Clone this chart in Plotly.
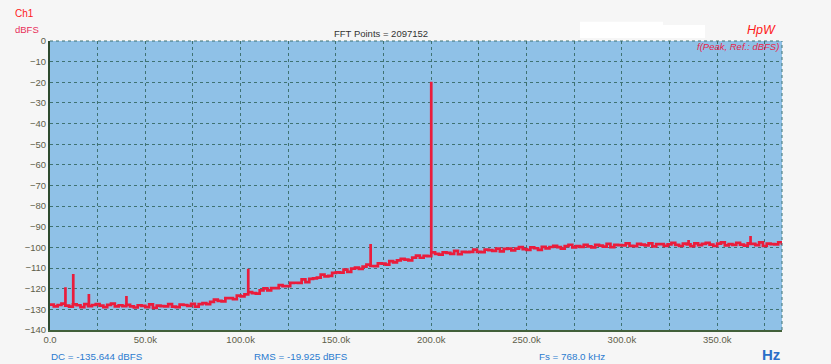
import plotly.graph_objects as go

# ---------------- data ----------------
freq_step_khz = 2.0
noise_db = [
    -127.7, -128.6, -127.9, -127.2, -128.2, -128.7, -127.6, -128.0, -128.9, -127.5,
    -128.5, -127.9, -127.4, -128.2, -128.9, -127.8, -127.2, -128.6, -128.0, -128.4,
    -127.8, -128.6, -129.1, -128.0, -128.3, -128.9, -127.6, -129.3, -128.2, -128.4,
    -128.6, -127.5, -128.7, -128.9, -127.7, -127.9, -128.3, -127.3, -128.7, -127.5,
    -127.0, -127.5, -126.4, -125.3, -125.9, -126.1, -124.6, -124.6, -125.1, -123.3,
    -123.7, -122.7, -121.7, -122.1, -122.4, -120.8, -119.8, -120.8, -119.7, -119.7,
    -118.3, -118.7, -118.7, -117.2, -117.1, -117.2, -115.5, -116.8, -115.2, -115.0,
    -114.6, -113.2, -114.0, -113.8, -112.3, -112.1, -112.2, -110.8, -111.8, -110.3,
    -109.8, -110.4, -109.3, -108.3, -109.0, -109.1, -107.7, -107.8, -108.3, -106.6,
    -107.2, -106.3, -105.5, -105.9, -106.3, -104.9, -104.0, -105.0, -104.1, -104.2,
    -102.4, -103.1, -103.5, -102.4, -102.6, -103.1, -101.7, -103.3, -102.2, -102.3,
    -102.2, -101.1, -102.2, -102.3, -101.1, -101.3, -101.7, -100.6, -101.9, -100.7,
    -100.6, -101.4, -100.6, -99.9, -100.8, -101.2, -100.0, -100.4, -101.2, -99.7,
    -100.5, -99.8, -99.2, -99.9, -100.6, -99.4, -98.7, -100.0, -99.4, -99.7,
    -98.8, -99.5, -100.0, -98.8, -99.1, -99.6, -98.3, -99.9, -98.8, -98.9,
    -99.0, -98.0, -99.2, -99.4, -98.3, -98.6, -99.0, -98.0, -99.5, -98.4,
    -98.4, -99.2, -98.5, -97.8, -98.8, -99.3, -98.2, -98.5, -99.4, -98.0,
    -98.9, -98.3, -97.8, -98.6, -99.3, -98.2, -97.6, -99.0, -98.4, -98.8,
    -97.8, -98.6, -99.1, -98.0, -98.3, -98.9, -97.6, -99.3, -98.2, -98.4,
    -98.5, -97.5, -98.8,
]
spike_freqs_khz = [8.1, 12.2, 20.4, 40.1, 104.0, 168.2, 200.0, 335.0, 367.5]
spike_levels_db = [-119.3, -112.9, -122.6, -123.5, -110.3, -98.3, -19.8, -96.4, -94.5]

x_tick_vals_khz = [0, 50, 100, 150, 200, 250, 300, 350]
x_tick_labels = ["0.0", "50.0k", "100.0k", "150.0k", "200.0k", "250.0k", "300.0k", "350.0k"]
y_tick_vals = [0, -10, -20, -30, -40, -50, -60, -70, -80, -90, -100, -110, -120, -130, -140]

fft_points = 2097152
dc_dbfs = -135.644
rms_dbfs = -19.925
fs_khz = 768.0

# ---------------- build trace ----------------
noise_freqs = [i * freq_step_khz for i in range(len(noise_db))]
pts = list(zip(noise_freqs, noise_db))
for f, lvl in zip(spike_freqs_khz, spike_levels_db):
    idx = min(range(len(noise_freqs)), key=lambda i: abs(noise_freqs[i] - f))
    base = noise_db[idx]
    pts += [(f, base), (f, lvl), (f, base)]
pts.sort(key=lambda p: p[0])
xs = [p[0] * 1000 for p in pts]
ys = [p[1] for p in pts]

# ---------------- figure ----------------
W, H = 831, 364
L, R, T, B = 50, 782, 41, 330
FONT = "Liberation Sans, Arial, sans-serif"
GRID = "#3f7272"

def px(xp):
    return (xp - L) / (R - L)

def py(yp):
    return (B - yp) / (B - T)

fig = go.Figure()
fig.add_trace(go.Scatter(
    x=xs, y=ys, mode="lines", line=dict(color="#ea1c3c", width=2.7, shape="hv"),
    hoverinfo="skip", showlegend=False,
))

fig.update_layout(
    width=W, height=H,
    margin=dict(l=L, r=W - R, t=T, b=H - B),
    paper_bgcolor="#f6f6f6", plot_bgcolor="#8fc1e7",
    font=dict(family=FONT, size=10, color="#5a5a48"),
    showlegend=False,
)
fig.update_xaxes(
    range=[0, fs_khz / 2 * 1000],
    tickvals=[v * 1000 for v in x_tick_vals_khz], ticktext=x_tick_labels,
    showgrid=True, gridcolor=GRID, griddash="3px,3px", gridwidth=1,
    minor=dict(dtick=25000, tick0=0, showgrid=True, gridcolor=GRID, griddash="3px,3px", gridwidth=1),
    showline=True, linecolor="#42603a", linewidth=1.5,
    ticks="", tickfont=dict(size=9.5, color="#5e5e4a"), zeroline=False,
)
fig.update_yaxes(
    range=[-140, 0], tickvals=y_tick_vals,
    showgrid=True, gridcolor=GRID, griddash="3px,3px", gridwidth=1,
    showline=True, linecolor="#2e4a2e", linewidth=2,
    ticks="", tickfont=dict(size=9.5, color="#5e5e4a"), zeroline=False,
)

shapes = [
    dict(type="line", xref="paper", yref="paper", x0=1, x1=1, y0=0, y1=1,
         line=dict(color=GRID, width=1, dash="3px,3px")),
    dict(type="line", xref="paper", yref="paper", x0=0, x1=1, y0=1, y1=1,
         line=dict(color=GRID, width=1, dash="3px,3px")),
    dict(type="rect", xref="paper", yref="paper", x0=px(580), x1=px(663), y0=py(38), y1=py(21.7),
         line=dict(width=0), fillcolor="#ffffff", layer="below"),
    dict(type="rect", xref="paper", yref="paper", x0=px(663), x1=px(705), y0=py(38), y1=py(25),
         line=dict(width=0), fillcolor="#ffffff", layer="below"),
]
fig.update_layout(shapes=shapes)

def ann(text, xp, yp, size, color, xanchor="left", bold=False, italic=False):
    t = text
    if bold:
        t = "<b>" + t + "</b>"
    if italic:
        t = "<i>" + t + "</i>"
    fig.add_annotation(text=t, xref="paper", yref="paper", x=px(xp), y=py(yp),
                       xanchor=xanchor, yanchor="middle", showarrow=False,
                       font=dict(family=FONT, size=size, color=color))

ann("Ch1", 13, 14, 10, "#ff1a1a")
ann("dBFS", 13, 29, 9.5, "#e8305a")
ann(f"FFT Points = {fft_points}", 332, 33, 9.5, "#333333")
ann("HpW", 778, 30, 12.5, "#ff1a1a", xanchor="right", italic=True)
ann("f(Peak, Ref.: dBFS)", 781, 47, 9.5, "#e8244a", xanchor="right", italic=True)
ann(f"DC = {dc_dbfs:.3f} dBFS", 49, 356, 9.8, "#2b7bd0")
ann(f"RMS = {rms_dbfs:.3f} dBFS", 252, 356, 9.8, "#2b7bd0")
ann(f"Fs = {fs_khz:.1f} kHz", 537, 356, 9.8, "#2b7bd0")
ann("Hz", 782, 354, 15, "#2a6fc8", xanchor="right", bold=True)

fig.write_html(
    "out.html",
    config={"displayModeBar": False},
    post_script="document.body.style.margin='0';document.body.style.overflow='hidden';",
)
